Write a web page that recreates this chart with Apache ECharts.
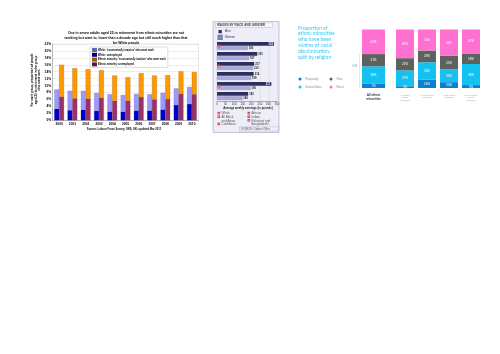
<!DOCTYPE html>
<html>
<head>
<meta charset="utf-8">
<script src="https://cdn.jsdelivr.net/npm/echarts@6/dist/echarts.min.js"></script>
<style>
html, body { margin: 0; padding: 0; background: #fff; }
#main { width: 500px; height: 354px; }
</style>
</head>
<body>
<div id="main"></div>
<script>
// --- chart 1: adults not working but want to (%)
var years = ['2000', '2001', '2002', '2003', '2004', '2005', '2006', '2007', '2008', '2009', '2010']
var whiteUnemployed = [3.3, 2.9, 3.0, 2.7, 2.5, 2.5, 2.8, 2.8, 3.1, 4.4, 4.7]
var whiteInactive = [5.6, 5.6, 5.5, 5.2, 5.0, 4.8, 4.8, 4.7, 4.8, 4.8, 4.9]
var ethnicUnemployed = [6.8, 6.3, 6.2, 6.5, 5.6, 5.6, 6.7, 6.0, 6.1, 7.6, 7.5]
var ethnicInactive = [9.2, 8.7, 8.5, 7.9, 7.3, 6.8, 6.9, 6.9, 6.9, 6.5, 6.4]

// --- chart 2: wages by race and gender (pounds per week)
var groupNums = ['1', '2', '3', '4', '5', '6']
var groupNames = ['White', 'All Black\nand Asian', 'Caribbean', 'African', 'Indian', 'Pakistani and\nBangladeshi']
var menPay = [332, 235, 217, 214, 317, 182]
var womenPay = [180, 187, 210, 199, 196, 148]

// --- chart 3: racial discrimination split by religion (%)
var religions = ['All ethnic\nminorities', 'Christian\nethnic\nminorities', 'Muslim ethnic\nminorities', 'Hindu ethnic\nminorities', 'Non-religious\nethnic\nminorities']
var frequently = [7, 3, 14, 10, 5]
var severalTimes = [30, 27, 30, 22, 36]
var once = [21, 21, 20, 23, 18]
var never = [42, 49, 36, 45, 41]

var arial = 'Liberation Sans'
var lato = 'Lato'

var chart = echarts.init(document.getElementById('main'))

// little numbered legend under the wages chart
var wageKey = []
var rows = [0, 0]
groupNames.forEach(function (name, i) {
  var col = i < 3 ? 0 : 1
  var x = col ? 247.5 : 217.5
  var y = 112 + rows[col] * 3.6
  rows[col] += name.split('\n').length
  wageKey.push({ type: 'rect', shape: { x: x, y: y - 0.2, width: 2.6, height: 2.6 }, style: { fill: '#e2405c' } })
  wageKey.push({ type: 'text', x: x + 1.3, y: y + 1.1, style: { text: groupNums[i], fill: '#fff', fontSize: 2, fontFamily: arial, align: 'center', verticalAlign: 'middle' } })
  wageKey.push({ type: 'text', x: x + 4, y: y - 0.3, style: { text: name, fill: '#555', fontSize: 3.1, lineHeight: 3.6, fontFamily: arial, verticalAlign: 'top' } })
})

var pctLabel = { show: true, position: 'inside', formatter: '{c}%', fontSize: 3, color: '#fff', fontFamily: lato }
function relSeries (name, data, color) {
  return [
    { name: name, type: 'bar', stack: 'a', xAxisIndex: 2, yAxisIndex: 2, data: data.slice(0, 1), barWidth: 23, itemStyle: { color: color }, label: pctLabel },
    { name: name, type: 'bar', stack: 'b', xAxisIndex: 3, yAxisIndex: 3, data: data.slice(1), barWidth: 18, itemStyle: { color: color }, label: pctLabel }
  ]
}

function wageData (vals) {
  return vals.map(function (v) {
    if (v > 300) return { value: v, label: { position: 'insideRight', color: '#fff' } }
    return v
  })
}

var option = {
  animation: false,
  textStyle: { fontFamily: arial },
  graphic: [
    // chart 1 texts
    { type: 'text', x: 126, y: 30.5, style: { text: 'One in seven adults aged 25 to retirement from ethnic minorities are not\nworking but want to, lower than a decade ago but still much higher than that\nfor White people', fill: '#000', fontSize: 3.4, fontWeight: 'bold', lineHeight: 4.9, fontFamily: arial, align: 'center', verticalAlign: 'top' } },
    { type: 'text', x: 36, y: 80, rotation: Math.PI / 2, style: { text: 'For each group, proportion of people\naged 25 to retirement in the group\nwho want work', fill: '#000', fontSize: 3, fontWeight: 'bold', lineHeight: 3.6, fontFamily: arial, align: 'center', verticalAlign: 'middle' } },
    { type: 'text', x: 124, y: 127.5, style: { text: 'Source: Labour Force Survey, ONS, UK; updated Mar 2011', fill: '#000', fontSize: 2.7, fontWeight: 'bold', fontFamily: arial, align: 'center', verticalAlign: 'top' } },
    // chart 2 panel
    { type: 'rect', z: -1, shape: { x: 213, y: 21.5, width: 66, height: 111 }, style: { fill: '#eeeef8', stroke: '#a0a0c8', lineWidth: 0.6 } },
    { type: 'rect', shape: { x: 215.5, y: 22.8, width: 57, height: 4.6 }, style: { fill: '#f6f6fc', stroke: '#a8a8c8', lineWidth: 0.4 } },
    { type: 'text', x: 217, y: 25.2, style: { text: 'WAGES BY RACE AND GENDER', fill: '#444', fontSize: 3.1, fontWeight: 'bold', fontFamily: arial, verticalAlign: 'middle' } },
    { type: 'text', x: 248, y: 106.5, style: { text: 'Average weekly earnings (in pounds)', fill: '#222', fontSize: 2.8, fontWeight: 'bold', fontFamily: arial, align: 'center', verticalAlign: 'top' } },
    { type: 'rect', shape: { x: 239.5, y: 126.8, width: 39, height: 4.4 }, style: { fill: 'none', stroke: '#a8a8c8', lineWidth: 0.4 } },
    { type: 'text', x: 241, y: 129, style: { text: 'SOURCE: Cabinet Office', fill: '#555', fontSize: 2.6, fontFamily: arial, verticalAlign: 'middle' } },
    // chart 3 texts
    { type: 'text', x: 298, y: 25, style: { text: 'Proportion of\nethnic minorities\nwho have been\nvictims of racial\ndiscrimination,\nsplit by religion', fill: '#38c6ef', fontSize: 5, lineHeight: 5.85, fontFamily: lato, verticalAlign: 'top' } },
    { type: 'line', shape: { x1: 359.5, y1: 54, x2: 359.5, y2: 88 }, style: { stroke: '#cfcfcf', lineWidth: 0.5 } },
    { type: 'text', x: 357.5, y: 66, style: { text: '50%', fill: '#999', fontSize: 2.8, fontFamily: lato, align: 'right', verticalAlign: 'middle' } }
  ].concat(wageKey),
  legend: [
    {
      data: ["White: 'economically inactive' who want work", 'White: unemployed', "Ethnic minority: 'economically inactive' who want work", 'Ethnic minority: unemployed'],
      left: 90, top: 47, orient: 'vertical', icon: 'rect', itemWidth: 3, itemHeight: 2, itemGap: 0.8,
      backgroundColor: '#fff', borderColor: '#bbb', borderWidth: 0.5, padding: [1, 2, 1, 2],
      textStyle: { fontSize: 2.6, fontWeight: 'bold', color: '#000', padding: [0, 0, 0, -3] }
    },
    {
      data: ['Men', 'Women'], left: 217.5, top: 30, orient: 'vertical', icon: 'rect', itemWidth: 3.3, itemHeight: 3.3, itemGap: 1.4, padding: 0,
      textStyle: { fontSize: 3, color: '#333', padding: [0, 0, 0, -2] }
    },
    {
      data: ['Frequently', 'Several times'], left: 298.5, top: 77.5, orient: 'vertical', icon: 'circle', itemWidth: 3, itemHeight: 3, itemGap: 5, padding: 0,
      textStyle: { fontSize: 2.8, color: '#888', fontFamily: lato, padding: [0, 0, 0, -1] }
    },
    {
      data: ['Once', 'Never'], left: 329.5, top: 77.5, orient: 'vertical', icon: 'circle', itemWidth: 3, itemHeight: 3, itemGap: 5, padding: 0,
      textStyle: { fontSize: 2.8, color: '#888', fontFamily: lato, padding: [0, 0, 0, -1] }
    }
  ],
  grid: [
    { left: 52.5, top: 44, width: 146, height: 76.3, show: true, backgroundColor: '#fff', borderColor: '#ccc', borderWidth: 0.5 },
    { left: 217, top: 41, width: 60, height: 60 },
    { left: 362, top: 29.5, width: 23, height: 58.5 },
    { left: 394, top: 29.5, width: 88, height: 58.5 }
  ],
  xAxis: [
    { gridIndex: 0, type: 'category', data: years, axisTick: { show: false }, axisLine: { lineStyle: { color: '#888', width: 0.5 } }, axisLabel: { fontSize: 3.2, fontWeight: 'bold', color: '#000', margin: 2 } },
    { gridIndex: 1, type: 'value', min: 0, max: 350, interval: 50, axisTick: { show: false }, axisLine: { show: true, lineStyle: { color: '#666', width: 0.5 } }, splitLine: { lineStyle: { color: '#c9c9dc', width: 0.4 } }, axisLabel: { fontSize: 2.8, color: '#333', margin: 2 } },
    { gridIndex: 2, type: 'category', data: religions.slice(0, 1), axisLine: { show: false }, axisTick: { show: false }, axisLabel: { fontSize: 3.2, fontWeight: 'bold', color: '#333', lineHeight: 4, margin: 5, fontFamily: lato } },
    { gridIndex: 3, type: 'category', data: religions.slice(1), axisLine: { show: false }, axisTick: { show: false }, axisLabel: { fontSize: 2.2, color: '#aaa', lineHeight: 2.7, margin: 5.5, interval: 0, fontFamily: lato } }
  ],
  yAxis: [
    { gridIndex: 0, type: 'value', min: 0, max: 22, interval: 2, axisLine: { show: true, lineStyle: { color: '#888', width: 0.5 } }, axisTick: { show: false }, splitLine: { lineStyle: { color: '#dedede', width: 0.5 } }, axisLabel: { formatter: '{value}%', fontSize: 3.2, fontWeight: 'bold', color: '#000', margin: 1.5 } },
    { gridIndex: 1, type: 'category', inverse: true, data: groupNums, axisLine: { show: false }, axisTick: { show: false }, z: 5,
      axisLabel: { inside: true, margin: 0.5, formatter: function (v) { return '{m|' + v + '}' },
        rich: { m: { backgroundColor: '#e2405c', color: '#fff', fontSize: 2.2, width: 2.8, height: 2.8, lineHeight: 2.8, align: 'center' } } } },
    { gridIndex: 2, type: 'value', min: 0, max: 100, show: false },
    { gridIndex: 3, type: 'value', min: 0, max: 100, show: false }
  ],
  series: [
    { name: 'White: unemployed', type: 'bar', stack: 'w', data: whiteUnemployed, barWidth: 4.8, barGap: '0%', itemStyle: { color: '#0000cc', borderColor: '#000080', borderWidth: 0.2 } },
    { name: "White: 'economically inactive' who want work", type: 'bar', stack: 'w', data: whiteInactive, barWidth: 4.8, itemStyle: { color: '#9999ff', borderColor: '#6666aa', borderWidth: 0.2 } },
    { name: 'Ethnic minority: unemployed', type: 'bar', stack: 'e', data: ethnicUnemployed, barWidth: 4.8, itemStyle: { color: '#993366', borderColor: '#5a1a3a', borderWidth: 0.2 } },
    { name: "Ethnic minority: 'economically inactive' who want work", type: 'bar', stack: 'e', data: ethnicInactive, barWidth: 4.8, itemStyle: { color: '#ff9900', borderColor: '#9a5a00', borderWidth: 0.3 } },

    { name: 'Men', type: 'bar', xAxisIndex: 1, yAxisIndex: 1, data: wageData(menPay), barWidth: 3.7, barGap: '15%', itemStyle: { color: '#2d2f5e' },
      label: { show: true, position: 'right', distance: 1, fontSize: 2.7, fontWeight: 'bold', color: '#222' } },
    { name: 'Women', type: 'bar', xAxisIndex: 1, yAxisIndex: 1, data: womenPay, barWidth: 3.7, itemStyle: { color: '#a9a9db', borderColor: '#7c7cb2', borderWidth: 0.3 },
      label: { show: true, position: 'right', distance: 1, fontSize: 2.7, fontWeight: 'bold', color: '#222' } }
  ]
    .concat(relSeries('Frequently', frequently, '#0a7fd4'))
    .concat(relSeries('Several times', severalTimes, '#14c2f2'))
    .concat(relSeries('Once', once, '#5d625f'))
    .concat(relSeries('Never', never, '#ff70d0'))
}

chart.setOption(option)
</script>
</body>
</html>
